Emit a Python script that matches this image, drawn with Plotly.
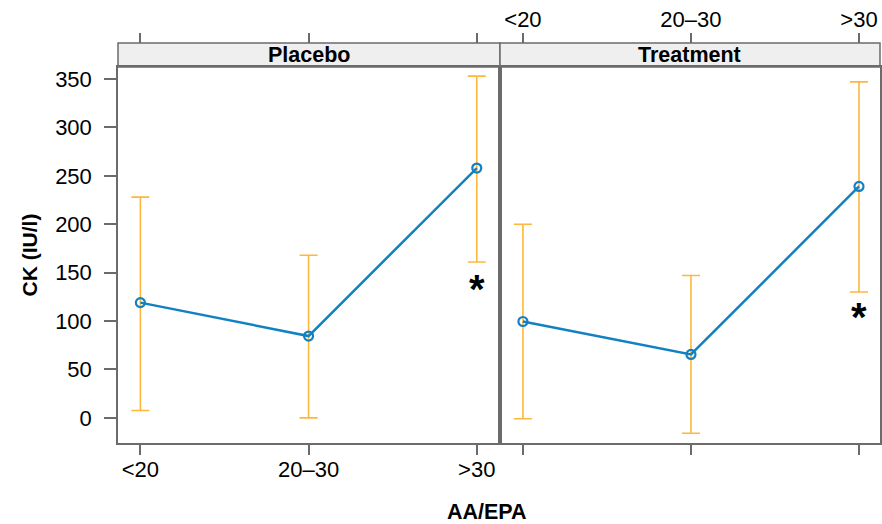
import plotly.graph_objects as go

categories = ["<20", "20–30", ">30"]
positions = [1, 2, 3]
panels = ["Placebo", "Treatment"]

placebo_mean = [119, 84.5, 258]
placebo_upper = [228, 168, 353]
placebo_lower = [7.5, 0, 161]

treatment_mean = [99.5, 65.5, 239]
treatment_upper = [200, 147, 347]
treatment_lower = [-1, -16, 130]

# significance markers (asterisks)
placebo_star = [None, None, 139]
treatment_star = [None, None, 110]

y_ticks = [0, 50, 100, 150, 200, 250, 300, 350]

LINE = "#1281C3"
ERR = "#FDB83C"
AXIS = "#6b6b6b"
FONT = "Liberation Sans, Arial, sans-serif"

fig = go.Figure()

def add_panel(mean, upper, lower, xa, ya):
    fig.add_trace(go.Scatter(
        x=positions, y=mean, xaxis=xa, yaxis=ya,
        mode="lines+markers",
        line=dict(color=LINE, width=2.5),
        marker=dict(symbol="circle-open", size=9, color=LINE, line=dict(width=2.2, color=LINE)),
        error_y=dict(type="data", symmetric=False,
                     array=[u - m for u, m in zip(upper, mean)],
                     arrayminus=[m - l for m, l in zip(mean, lower)],
                     color=ERR, thickness=1.6, width=9),
        showlegend=False, hoverinfo="skip"))

add_panel(placebo_mean, placebo_upper, placebo_lower, "x", "y")
add_panel(treatment_mean, treatment_upper, treatment_lower, "x2", "y2")

# invisible traces to attach top axes
for xa, ya in [("x3", "y"), ("x4", "y2")]:
    fig.add_trace(go.Scatter(x=positions, y=[None] * 3, xaxis=xa, yaxis=ya,
                             mode="markers", showlegend=False, hoverinfo="skip"))

# asterisks
for xa, ya, stars in [("x", "y", placebo_star), ("x2", "y2", treatment_star)]:
    for p, s in zip(positions, stars):
        if s is not None:
            fig.add_annotation(x=p, y=s, xref=xa, yref=ya, text="<b>*</b>",
                               showarrow=False, font=dict(size=40, color="black", family=FONT),
                               yshift=-6)

split = (501 - 118) / 764
top_dom = (443 - 67) / 400
rng_left = [0.867, 3.138]
rng_right = [0.8635, 3.125]
yr = [-26, 362.4]

tickfont = dict(family=FONT, size=22, color="black")
common_x = dict(tickvals=positions, ticktext=categories, showgrid=False, zeroline=False,
                showline=True, linecolor=AXIS, linewidth=1.5, mirror=True,
                ticks="outside", ticklen=10, tickwidth=1.5, tickcolor=AXIS,
                fixedrange=True)

fig.update_layout(
    width=882, height=524,
    margin=dict(l=118, r=0, t=43, b=81),
    paper_bgcolor="white", plot_bgcolor="white",
    xaxis=dict(domain=[0, split], range=rng_left, anchor="y", tickfont=tickfont,
               ticklabelstandoff=-4, **common_x),
    xaxis2=dict(domain=[split, 1], range=rng_right, anchor="y2", showticklabels=False,
                **common_x),
    xaxis3=dict(overlaying="x", side="top", anchor="free", position=1, range=rng_left,
                tickvals=positions, ticktext=categories, showticklabels=False,
                showgrid=False, zeroline=False, showline=False,
                ticks="outside", ticklen=10, tickwidth=1.5, tickcolor=AXIS),
    xaxis4=dict(overlaying="x2", side="top", anchor="free", position=1, range=rng_right,
                tickvals=positions, ticktext=categories, showticklabels=True, tickfont=tickfont,
                ticklabelstandoff=-3,
                showgrid=False, zeroline=False, showline=False,
                ticks="outside", ticklen=10, tickwidth=1.5, tickcolor=AXIS),
    yaxis=dict(domain=[0, top_dom], range=yr, tickvals=y_ticks, showgrid=False, zeroline=False,
               showline=True, linecolor=AXIS, linewidth=1.5, mirror=True,
               ticks="outside", ticklen=12, tickwidth=1.5, tickcolor=AXIS,
               tickfont=tickfont, fixedrange=True, ticklabelstandoff=8,
               title=dict(text="<b>CK (IU/l)</b>", font=dict(family=FONT, size=21, color="black"),
                          standoff=12)),
    yaxis2=dict(domain=[0, top_dom], range=yr, anchor="x2", matches="y", showgrid=False,
                zeroline=False, showline=True, linecolor=AXIS, linewidth=1.5, mirror=True,
                showticklabels=False, ticks="", fixedrange=True),
)

# strips
for i, (x0, x1) in enumerate([(0, split), (split, 1)]):
    fig.add_shape(type="rect", xref="paper", yref="paper", x0=x0, x1=x1, y0=top_dom, y1=1,
                  fillcolor="#EFEFEF", line=dict(color=AXIS, width=1.5), layer="below")
    fig.add_annotation(xref="paper", yref="paper", x=(x0 + x1) / 2, y=(top_dom + 1) / 2,
                       text="<b>%s</b>" % panels[i], showarrow=False,
                       xanchor="center", yanchor="middle",
                       font=dict(family=FONT, size=21.5, color="black"))

fig.add_annotation(xref="paper", yref="paper", x=(488 - 118) / 764, y=-69 / 400,
                   text="<b>AA/EPA</b>", showarrow=False, xanchor="center", yanchor="middle",
                   font=dict(family=FONT, size=21.5, color="black"))

fig.write_html("out.html")
